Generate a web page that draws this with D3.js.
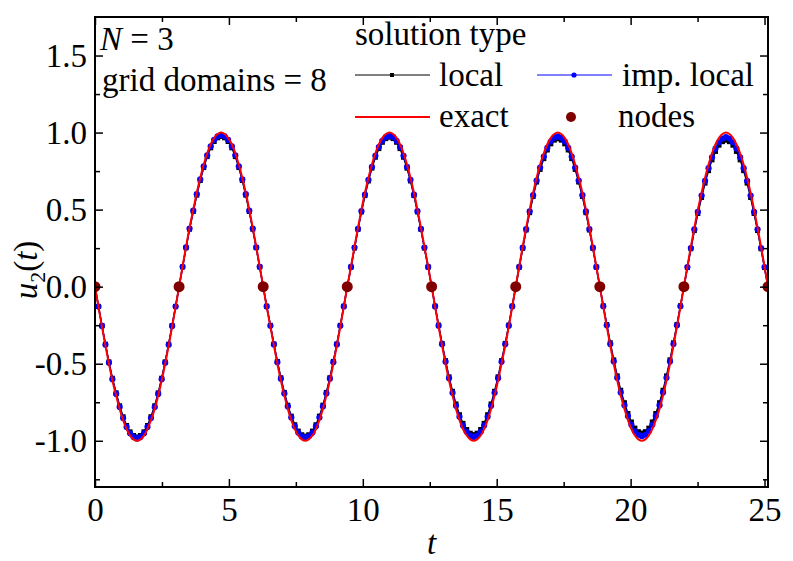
<!DOCTYPE html>
<html>
<head>
<meta charset="utf-8">
<script src="https://cdn.jsdelivr.net/npm/d3@7"></script>
<style>
    body { margin: 0; background: #fff; }
    text { font-family: "Liberation Serif", "Times New Roman", serif; }
</style>
</head>
<body>
<svg id="drawing_region"></svg>
<script>
// sample times (t) for the computed solutions
const tGrid = [
    0,0.13,0.26,0.39,0.52,0.65,0.79,0.92,1.05,1.18,1.31,1.44,1.57,1.70,1.83,1.96,2.09,2.23,2.36,2.49,2.62,2.75,2.88,3.01,
    3.14,3.27,3.40,3.53,3.67,3.80,3.93,4.06,4.19,4.32,4.45,4.58,4.71,4.84,4.97,5.11,5.24,5.37,5.50,5.63,5.76,5.89,6.02,6.15,
    6.28,6.41,6.55,6.68,6.81,6.94,7.07,7.20,7.33,7.46,7.59,7.72,7.85,7.98,8.12,8.25,8.38,8.51,8.64,8.77,8.90,9.03,9.16,9.29,
    9.42,9.56,9.69,9.82,9.95,10.08,10.21,10.34,10.47,10.60,10.73,10.86,11.00,11.13,11.26,11.39,11.52,11.65,11.78,11.91,12.04,12.17,12.30,12.44,
    12.57,12.70,12.83,12.96,13.09,13.22,13.35,13.48,13.61,13.74,13.88,14.01,14.14,14.27,14.40,14.53,14.66,14.79,14.92,15.05,15.18,15.32,15.45,15.58,
    15.71,15.84,15.97,16.10,16.23,16.36,16.49,16.62,16.76,16.89,17.02,17.15,17.28,17.41,17.54,17.67,17.80,17.93,18.06,18.20,18.33,18.46,18.59,18.72,
    18.85,18.98,19.11,19.24,19.37,19.50,19.63,19.77,19.90,20.03,20.16,20.29,20.42,20.55,20.68,20.81,20.94,21.08,21.21,21.34,21.47,21.60,21.73,21.86,
    21.99,22.12,22.25,22.38,22.51,22.65,22.78,22.91,23.04,23.17,23.30,23.43,23.56,23.69,23.82,23.95,24.09,24.22,24.35,24.48,24.61,24.74,24.87,25.00,
    25.13
];

const localU = [
    0,-0.128,-0.253,-0.373,-0.488,-0.594,-0.689,-0.773,-0.844,-0.901,-0.942,-0.966,-0.975,-0.966,-0.942,-0.901,-0.844,-0.773,-0.689,-0.594,-0.488,-0.373,-0.253,-0.128,
    0,0.128,0.253,0.373,0.488,0.594,0.689,0.773,0.844,0.901,0.942,0.966,0.975,0.966,0.942,0.901,0.844,0.773,0.689,0.594,0.488,0.373,0.253,0.128,
    0,-0.127,-0.251,-0.372,-0.485,-0.591,-0.686,-0.769,-0.840,-0.896,-0.937,-0.961,-0.970,-0.961,-0.937,-0.896,-0.840,-0.769,-0.686,-0.591,-0.485,-0.372,-0.251,-0.127,
    0,0.127,0.251,0.372,0.485,0.591,0.686,0.769,0.840,0.896,0.937,0.961,0.970,0.961,0.937,0.896,0.840,0.769,0.686,0.591,0.485,0.372,0.251,0.127,
    0,-0.126,-0.249,-0.368,-0.480,-0.585,-0.679,-0.761,-0.831,-0.887,-0.927,-0.951,-0.960,-0.951,-0.927,-0.887,-0.831,-0.761,-0.679,-0.585,-0.480,-0.368,-0.249,-0.126,
    0,0.126,0.249,0.368,0.480,0.585,0.679,0.761,0.831,0.887,0.927,0.951,0.960,0.951,0.927,0.887,0.831,0.761,0.679,0.585,0.480,0.368,0.249,0.126,
    0,-0.124,-0.246,-0.364,-0.475,-0.579,-0.672,-0.753,-0.823,-0.878,-0.918,-0.941,-0.950,-0.941,-0.918,-0.878,-0.823,-0.753,-0.672,-0.579,-0.475,-0.364,-0.246,-0.124,
    0,0.124,0.246,0.364,0.475,0.579,0.672,0.753,0.823,0.878,0.918,0.941,0.950,0.941,0.918,0.878,0.823,0.753,0.672,0.579,0.475,0.364,0.246,0.124,
    0
];

const impLocalU = [
    0,-0.129,-0.255,-0.377,-0.493,-0.600,-0.696,-0.781,-0.853,-0.910,-0.952,-0.976,-0.985,-0.976,-0.952,-0.910,-0.853,-0.781,-0.696,-0.600,-0.493,-0.377,-0.255,-0.129,
    0,0.129,0.255,0.377,0.493,0.600,0.696,0.781,0.853,0.910,0.952,0.976,0.985,0.976,0.952,0.910,0.853,0.781,0.696,0.600,0.493,0.377,0.255,0.129,
    0,-0.128,-0.254,-0.375,-0.490,-0.597,-0.693,-0.777,-0.849,-0.906,-0.947,-0.971,-0.980,-0.971,-0.947,-0.906,-0.849,-0.777,-0.693,-0.597,-0.490,-0.375,-0.254,-0.128,
    0,0.128,0.254,0.375,0.490,0.597,0.693,0.777,0.849,0.906,0.947,0.971,0.980,0.971,0.947,0.906,0.849,0.777,0.693,0.597,0.490,0.375,0.254,0.128,
    0,-0.128,-0.253,-0.373,-0.488,-0.594,-0.689,-0.773,-0.844,-0.901,-0.942,-0.966,-0.975,-0.966,-0.942,-0.901,-0.844,-0.773,-0.689,-0.594,-0.488,-0.373,-0.253,-0.128,
    0,0.128,0.253,0.373,0.488,0.594,0.689,0.773,0.844,0.901,0.942,0.966,0.975,0.966,0.942,0.901,0.844,0.773,0.689,0.594,0.488,0.373,0.253,0.128,
    0,-0.127,-0.251,-0.372,-0.485,-0.591,-0.686,-0.769,-0.840,-0.896,-0.937,-0.961,-0.970,-0.961,-0.937,-0.896,-0.840,-0.769,-0.686,-0.591,-0.485,-0.372,-0.251,-0.127,
    0,0.127,0.251,0.372,0.485,0.591,0.686,0.769,0.840,0.896,0.937,0.961,0.970,0.961,0.937,0.896,0.840,0.769,0.686,0.591,0.485,0.372,0.251,0.127,
    0
];

const exactU = [
    0,-0.131,-0.259,-0.383,-0.500,-0.609,-0.707,-0.793,-0.866,-0.924,-0.966,-0.991,-1.000,-0.991,-0.966,-0.924,-0.866,-0.793,-0.707,-0.609,-0.500,-0.383,-0.259,-0.131,
    0,0.131,0.259,0.383,0.500,0.609,0.707,0.793,0.866,0.924,0.966,0.991,1.000,0.991,0.966,0.924,0.866,0.793,0.707,0.609,0.500,0.383,0.259,0.131,
    0,-0.131,-0.259,-0.383,-0.500,-0.609,-0.707,-0.793,-0.866,-0.924,-0.966,-0.991,-1.000,-0.991,-0.966,-0.924,-0.866,-0.793,-0.707,-0.609,-0.500,-0.383,-0.259,-0.131,
    0,0.131,0.259,0.383,0.500,0.609,0.707,0.793,0.866,0.924,0.966,0.991,1.000,0.991,0.966,0.924,0.866,0.793,0.707,0.609,0.500,0.383,0.259,0.131,
    0,-0.131,-0.259,-0.383,-0.500,-0.609,-0.707,-0.793,-0.866,-0.924,-0.966,-0.991,-1.000,-0.991,-0.966,-0.924,-0.866,-0.793,-0.707,-0.609,-0.500,-0.383,-0.259,-0.131,
    0,0.131,0.259,0.383,0.500,0.609,0.707,0.793,0.866,0.924,0.966,0.991,1.000,0.991,0.966,0.924,0.866,0.793,0.707,0.609,0.500,0.383,0.259,0.131,
    0,-0.131,-0.259,-0.383,-0.500,-0.609,-0.707,-0.793,-0.866,-0.924,-0.966,-0.991,-1.000,-0.991,-0.966,-0.924,-0.866,-0.793,-0.707,-0.609,-0.500,-0.383,-0.259,-0.131,
    0,0.131,0.259,0.383,0.500,0.609,0.707,0.793,0.866,0.924,0.966,0.991,1.000,0.991,0.966,0.924,0.866,0.793,0.707,0.609,0.500,0.383,0.259,0.131,
    0
];

// grid domain boundaries
const nodeT = [0, 3.14, 6.28, 9.42, 12.57, 15.71, 18.85, 21.99, 25.13];
const nodeU = [0, 0, 0, 0, 0, 0, 0, 0, 0];

const xMajor = [0, 5, 10, 15, 20, 25];
const xMinor = [2.5, 7.5, 12.5, 17.5, 22.5];
const yMajor = [-1.0, -0.5, 0.0, 0.5, 1.0, 1.5];
const yMinor = [-1.25, -0.75, -0.25, 0.25, 0.75, 1.25];

const config = {
    width: 793,
    height: 561,
    margin: {top: 17, right: 25, bottom: 74, left: 95}
};

const svg = d3.select('#drawing_region')
    .attr('width', config.width)
    .attr('height', config.height);

const inner_width = config.width - config.margin.left - config.margin.right;
const inner_height = config.height - config.margin.top - config.margin.bottom;

const chart = svg.append('g')
    .attr('transform', `translate(${config.margin.left}, ${config.margin.top})`);

const xscale = d3.scaleLinear().domain([0, 25.13]).range([0, inner_width]);
const yscale = d3.scaleLinear().domain([-1.3, 1.75]).range([inner_height, 0]);

chart.append('clipPath').attr('id', 'clip')
    .append('rect').attr('width', inner_width).attr('height', inner_height);

const plot = chart.append('g').attr('clip-path', 'url(#clip)');

const localData = tGrid.map((t, i) => ({t: t, u: localU[i]}));
const impData = tGrid.map((t, i) => ({t: t, u: impLocalU[i]}));
const exactData = tGrid.map((t, i) => ({t: t, u: exactU[i]}));
const nodeData = nodeT.map((t, i) => ({t: t, u: nodeU[i]}));

const line = d3.line().x(d => xscale(d.t)).y(d => yscale(d.u));
const smooth = d3.line().x(d => xscale(d.t)).y(d => yscale(d.u)).curve(d3.curveCatmullRom);

// local
plot.append('path').datum(localData)
    .attr('d', line).attr('fill', 'none').attr('stroke', '#000').attr('stroke-width', 1.5);
plot.selectAll('.sq').data(localData).enter().append('rect')
    .attr('x', d => xscale(d.t) - 2.5).attr('y', d => yscale(d.u) - 2.5)
    .attr('width', 5).attr('height', 5).attr('fill', '#000');

// imp. local
plot.append('path').datum(impData)
    .attr('d', line).attr('fill', 'none').attr('stroke', '#0000ff').attr('stroke-width', 1.5);
plot.selectAll('.dot').data(impData).enter().append('circle')
    .attr('cx', d => xscale(d.t)).attr('cy', d => yscale(d.u))
    .attr('r', 3.1).attr('fill', '#0000ff');

// exact
plot.append('path').datum(exactData)
    .attr('d', smooth).attr('fill', 'none').attr('stroke', '#ff0000').attr('stroke-width', 2);

// nodes
plot.selectAll('.node').data(nodeData).enter().append('circle')
    .attr('cx', d => xscale(d.t)).attr('cy', d => yscale(d.u))
    .attr('r', 5.5).attr('fill', '#800000');

// axes
function styleAxis(g) {
    g.select('.domain').remove();
    g.selectAll('line').attr('stroke', '#000').attr('stroke-width', 1.5);
    g.selectAll('text').attr('fill', '#000').style('font-size', '33px')
        .style('font-family', '"Liberation Serif", serif');
}

chart.append('g').attr('transform', `translate(0, ${inner_height})`)
    .call(d3.axisBottom(xscale).tickValues(xMajor).tickSize(-8).tickSizeOuter(0).tickPadding(11).tickFormat(d3.format('d')))
    .call(styleAxis);
chart.append('g').attr('transform', `translate(0, ${inner_height})`)
    .call(d3.axisBottom(xscale).tickValues(xMinor).tickSize(-5).tickSizeOuter(0).tickFormat(''))
    .call(styleAxis);
chart.append('g')
    .call(d3.axisTop(xscale).tickValues(xMajor).tickSize(-8).tickSizeOuter(0).tickFormat(''))
    .call(styleAxis);
chart.append('g')
    .call(d3.axisTop(xscale).tickValues(xMinor).tickSize(-5).tickSizeOuter(0).tickFormat(''))
    .call(styleAxis);

chart.append('g')
    .call(d3.axisLeft(yscale).tickValues(yMajor).tickSize(-8).tickSizeOuter(0).tickPadding(8).tickFormat(d => d.toFixed(1)))
    .call(styleAxis);
chart.append('g')
    .call(d3.axisLeft(yscale).tickValues(yMinor).tickSize(-5).tickSizeOuter(0).tickFormat(''))
    .call(styleAxis);
chart.append('g').attr('transform', `translate(${inner_width}, 0)`)
    .call(d3.axisRight(yscale).tickValues(yMajor).tickSize(-8).tickSizeOuter(0).tickFormat(''))
    .call(styleAxis);
chart.append('g').attr('transform', `translate(${inner_width}, 0)`)
    .call(d3.axisRight(yscale).tickValues(yMinor).tickSize(-5).tickSizeOuter(0).tickFormat(''))
    .call(styleAxis);

chart.append('rect')
    .attr('width', inner_width).attr('height', inner_height)
    .attr('fill', 'none').attr('stroke', '#000').attr('stroke-width', 2);

// axis titles
svg.append('text')
    .attr('x', config.margin.left + inner_width / 2)
    .attr('y', 554)
    .attr('text-anchor', 'middle')
    .style('font-size', '33px').style('font-style', 'italic')
    .text('t');

const ytitle = svg.append('text')
    .attr('transform', 'translate(37, 270) rotate(-90)')
    .attr('text-anchor', 'middle')
    .style('font-size', '33px');
ytitle.append('tspan').style('font-style', 'italic').text('u');
ytitle.append('tspan').attr('dy', 8).style('font-size', '22px').text('2');
ytitle.append('tspan').attr('dy', -8).text('(');
ytitle.append('tspan').style('font-style', 'italic').text('t');
ytitle.append('tspan').text(')');

// annotations and legend
const nlabel = svg.append('text').attr('x', 100).attr('y', 50).style('font-size', '33px');
nlabel.append('tspan').style('font-style', 'italic').text('N');
nlabel.append('tspan').text(' = 3');

svg.append('text').attr('x', 102).attr('y', 91).style('font-size', '33px')
    .text('grid domains = 8');

const legend = svg.append('g').style('font-size', '33px');
legend.append('text').attr('x', 355).attr('y', 45).text('solution type');

legend.append('line').attr('x1', 355).attr('x2', 430).attr('y1', 75).attr('y2', 75)
    .attr('stroke', '#000').attr('stroke-width', 1);
legend.append('rect').attr('x', 390).attr('y', 73).attr('width', 4).attr('height', 4).attr('fill', '#000');
legend.append('text').attr('x', 439).attr('y', 86).text('local');

legend.append('line').attr('x1', 537).attr('x2', 612).attr('y1', 75).attr('y2', 75)
    .attr('stroke', '#0000ff').attr('stroke-width', 1);
legend.append('circle').attr('cx', 574).attr('cy', 75).attr('r', 2.6).attr('fill', '#0000ff');
legend.append('text').attr('x', 622).attr('y', 86).text('imp. local');

legend.append('line').attr('x1', 355).attr('x2', 430).attr('y1', 117).attr('y2', 117)
    .attr('stroke', '#ff0000').attr('stroke-width', 2);
legend.append('text').attr('x', 439).attr('y', 127).text('exact');

legend.append('circle').attr('cx', 571).attr('cy', 117).attr('r', 5).attr('fill', '#800000');
legend.append('text').attr('x', 618).attr('y', 127).text('nodes');
</script>
</body>
</html>
